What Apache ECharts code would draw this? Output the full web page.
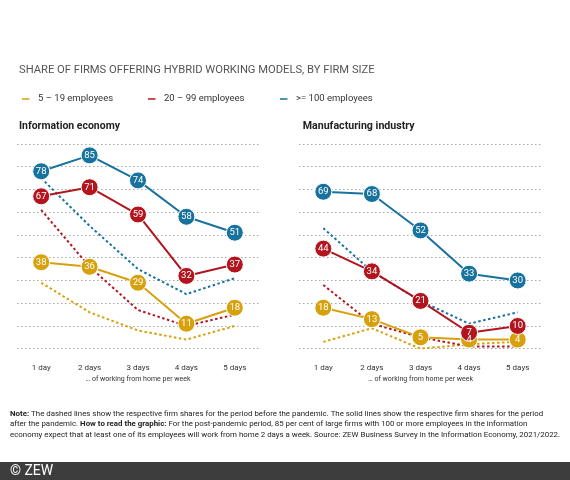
<!DOCTYPE html>
<html><head><meta charset="utf-8">
<script src="https://cdn.jsdelivr.net/npm/echarts@6/dist/echarts.min.js"></script>
<style>html,body{margin:0;padding:0;background:#fff}#c{width:570px;height:480px}</style>
</head><body><div id="c"></div>
<script>
const days = ['1 day', '2 days', '3 days', '4 days', '5 days'];
const seriesNames = ['5 – 19 employees', '20 – 99 employees', '>= 100 employees'];
// Information economy
const infoSmallPost = [38, 36, 29, 11, 18];
const infoMidPost = [67, 71, 59, 32, 37];
const infoLargePost = [78, 85, 74, 58, 51];
const infoSmallPre = [29, 16, 8, 4, 10];
const infoMidPre = [61, 36, 17, 10, 15];
const infoLargePre = [75, 54, 35, 24, 31];
// Manufacturing industry
const mfgSmallPost = [18, 13, 5, 4, 4];
const mfgMidPost = [44, 34, 21, 7, 10];
const mfgLargePost = [69, 68, 52, 33, 30];
const mfgSmallPre = [3, 9, 0, 2, 3];
const mfgMidPre = [28, 11, 5, 1, 1];
const mfgLargePre = [53, 34, 21, 11, 16];

const titleText = 'SHARE OF FIRMS OFFERING HYBRID WORKING MODELS, BY FIRM SIZE';
const panelTitles = ['Information economy', 'Manufacturing industry'];
const axisName = '… of working from home per week';
const noteLines = [
  [['b', 'Note:'], ['n', ' The dashed lines show the respective firm shares for the period before the pandemic. The solid lines show the respective firm shares for the period']],
  [['n', 'after the pandemic. '], ['b', 'How to read the graphic:'], ['n', ' For the post-pandemic period, 85 per cent of large firms with 100 or more employees in the information']],
  [['n', 'economy expect that at least one of its employees will work from home 2 days a week. Source: ZEW Business Survey in the Information Economy, 2021/2022.']]
];

const colors = ['#d7a10d', '#b3151f', '#17729d'];
const FONT = "Roboto, 'Noto Sans', sans-serif";

const ctx = document.createElement('canvas').getContext('2d');
function measure(segs, size) {
  let w = 0;
  segs.forEach(function (s) {
    ctx.font = (s[0] === 'b' ? 'bold ' : 'normal ') + size + 'px ' + FONT;
    w += ctx.measureText(s[1]).width;
  });
  return w;
}
// fit fonts to the reference widths
const titleSize = 10 * 356 / measure([['n', titleText]], 10);
const noteSize = 10 * 534 / measure(noteLines[0], 10);
const subSize = 11.8;
const subScale = [101 / measure([['b', panelTitles[0]]], subSize), 112 / measure([['b', panelTitles[1]]], subSize)];

function solid(name, data, idx, color) {
  return {
    type: 'line', name: name, data: data, xAxisIndex: idx, yAxisIndex: idx, z: 4,
    symbol: 'circle', symbolSize: 17, color: color,
    lineStyle: {width: 2, color: color},
    itemStyle: {color: color, borderColor: '#fff', borderWidth: 1},
    label: {show: true, position: 'inside', color: '#fff', fontSize: 9.5, fontFamily: FONT},
    emphasis: {disabled: true}, animation: false
  };
}
function dashed(name, data, idx, color) {
  return {
    type: 'line', name: name + ' (pre)', data: data, xAxisIndex: idx, yAxisIndex: idx, z: 2,
    symbol: 'none', color: color,
    lineStyle: {width: 2, color: color, type: [2.5, 2.5]},
    emphasis: {disabled: true}, animation: false
  };
}
function xAx(idx) {
  return {
    type: 'category', gridIndex: idx, data: days, boundaryGap: true,
    axisLine: {show: false}, axisTick: {show: false},
    axisLabel: {fontSize: 8, color: '#333', margin: 15, fontFamily: FONT},
    name: axisName, nameLocation: 'middle', nameGap: 27,
    nameTextStyle: {fontSize: 7, color: '#333', fontFamily: FONT}
  };
}
function yAx(idx) {
  return {
    type: 'value', gridIndex: idx, min: 0, max: 90, interval: 10,
    axisLabel: {show: false}, axisLine: {show: false}, axisTick: {show: false},
    splitLine: {show: true, lineStyle: {color: '#a8a8a8', width: 1, type: [1.5, 2.5]}}
  };
}
function leg(name, left) {
  return {
    data: [name], left: left, top: 89, icon: 'rect', itemWidth: 9.5, itemHeight: 3.5,
    selectedMode: false,
    textStyle: {fontSize: 9.5, color: '#333', fontFamily: FONT, padding: [0, 0, 0, 2.5]}
  };
}
function noteText() {
  return noteLines.map(function (line) {
    return line.map(function (s) {
      return s[0] === 'b' ? '{b|' + s[1] + '}' : '{n|' + s[1] + '}';
    }).join('');
  }).join('\n');
}

const chart = echarts.init(document.getElementById('c'), null, {renderer: 'canvas'});
chart.setOption({
  backgroundColor: '#fff',
  animation: false,
  legend: [leg(seriesNames[0], 15), leg(seriesNames[1], 141), leg(seriesNames[2], 273)],
  grid: [
    {left: 17, top: 144, width: 242, height: 204.7},
    {left: 299, top: 144, width: 243, height: 204.7}
  ],
  xAxis: [xAx(0), xAx(1)],
  yAxis: [yAx(0), yAx(1)],
  series: [
    dashed(seriesNames[0], infoSmallPre, 0, colors[0]),
    dashed(seriesNames[1], infoMidPre, 0, colors[1]),
    dashed(seriesNames[2], infoLargePre, 0, colors[2]),
    dashed(seriesNames[0], mfgSmallPre, 1, colors[0]),
    dashed(seriesNames[1], mfgMidPre, 1, colors[1]),
    dashed(seriesNames[2], mfgLargePre, 1, colors[2]),
    solid(seriesNames[0], infoSmallPost, 0, colors[0]),
    solid(seriesNames[1], infoMidPost, 0, colors[1]),
    solid(seriesNames[2], infoLargePost, 0, colors[2]),
    solid(seriesNames[0], mfgSmallPost, 1, colors[0]),
    solid(seriesNames[1], mfgMidPost, 1, colors[1]),
    solid(seriesNames[2], mfgLargePost, 1, colors[2])
  ],
  graphic: [
    {type: 'text', x: 19, y: 70, silent: true,
     style: {text: titleText, fill: '#555', fontSize: titleSize, fontFamily: FONT, verticalAlign: 'middle'}},
    {type: 'text', x: 19, y: 126.5, scaleX: subScale[0], silent: true,
     style: {text: panelTitles[0], fill: '#222', fontSize: subSize, fontWeight: 'bold', fontFamily: FONT, verticalAlign: 'middle'}},
    {type: 'text', x: 302.7, y: 126.5, scaleX: subScale[1], silent: true,
     style: {text: panelTitles[1], fill: '#222', fontSize: subSize, fontWeight: 'bold', fontFamily: FONT, verticalAlign: 'middle'}},
    {type: 'text', x: 10, y: 408.3, silent: true,
     style: {text: noteText(), fill: '#222', fontSize: noteSize, fontFamily: FONT, lineHeight: 10.7, verticalAlign: 'top',
       rich: {
         b: {fontSize: noteSize, fontWeight: 'bold', fill: '#222', fontFamily: FONT, lineHeight: 10.7},
         n: {fontSize: noteSize, fontWeight: 'normal', fill: '#222', fontFamily: FONT, lineHeight: 10.7}
       }}},
    {type: 'rect', x: 0, y: 462, shape: {width: 570, height: 18}, style: {fill: '#3d3d3d'}, silent: true},
    {type: 'text', x: 10, y: 471.5, silent: true,
     style: {text: '© ZEW', fill: '#fff', fontSize: 14, fontFamily: FONT, verticalAlign: 'middle'}}
  ]
});
</script></body></html>
